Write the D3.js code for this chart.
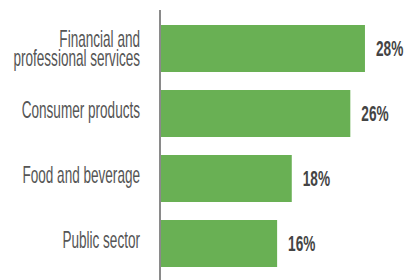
<!DOCTYPE html>
<html>
<head>
<meta charset="utf-8">
<script src="https://cdn.jsdelivr.net/npm/d3@7"></script>
<style>
  html, body { margin: 0; padding: 0; background: #fff; }
  svg { display: block; }
</style>
</head>
<body>
<div id="chart"></div>
<script>
const categories = [["Financial and", "professional services"], ["Consumer products"], ["Food and beverage"], ["Public sector"]];
const keys = ["fin", "cons", "food", "pub"];
const values = [28, 26, 18, 16];

const W = 406, H = 280;
const svg = d3.select("#chart").append("svg")
    .attr("width", W)
    .attr("height", H);

const y = d3.scaleBand()
    .domain(keys)
    .range([16, 276])
    .paddingInner(18 / 65)
    .paddingOuter(9 / 65);

const x = d3.scaleLinear()
    .domain([0, 30])
    .range([160, 379.6]);

// bars
svg.append("g").selectAll("rect")
    .data(values)
  .enter().append("rect")
    .attr("x", x(0))
    .attr("y", (d, i) => y(keys[i]))
    .attr("width", d => x(d) - x(0))
    .attr("height", y.bandwidth())
    .attr("fill", "#69b054");

// vertical axis line
svg.append("line")
    .attr("x1", x(0)).attr("x2", x(0))
    .attr("y1", 10).attr("y2", H)
    .attr("stroke", "#8a8a8a")
    .attr("stroke-width", 2);

// category labels (condensed via scaleX)
const sxCat = 0.565;
const labelX = 140;
const catG = svg.append("g").selectAll("text")
    .data(categories)
  .enter().append("text")
    .attr("transform", (d, i) => {
      const c = y(keys[i]) + y.bandwidth() / 2;
      const base = d.length > 1 ? c - 1.5 : c + 4;
      return "translate(" + labelX + "," + base + ")scale(" + sxCat + ",1)";
    })
    .attr("text-anchor", "end")
    .style("font-family", "'Liberation Sans', Arial, sans-serif")
    .style("font-size", "24px")
    .style("fill", "#555");
catG.selectAll("tspan")
    .data(d => d)
  .enter().append("tspan")
    .attr("x", 0)
    .attr("dy", (d, i) => i === 0 ? 0 : 19)
    .text(d => d);

// value labels
const sxVal = 0.62;
svg.append("g").selectAll("text")
    .data(values)
  .enter().append("text")
    .attr("transform", (d, i) => "translate(" + (x(d) + 11) + "," + (y(keys[i]) + y.bandwidth() / 2 + 7.5) + ")scale(" + sxVal + ",1)")
    .style("font-family", "'Liberation Sans', Arial, sans-serif")
    .style("font-weight", "bold")
    .style("font-size", "22px")
    .style("fill", "#444")
    .text(d => d + "%");
</script>
</body>
</html>
